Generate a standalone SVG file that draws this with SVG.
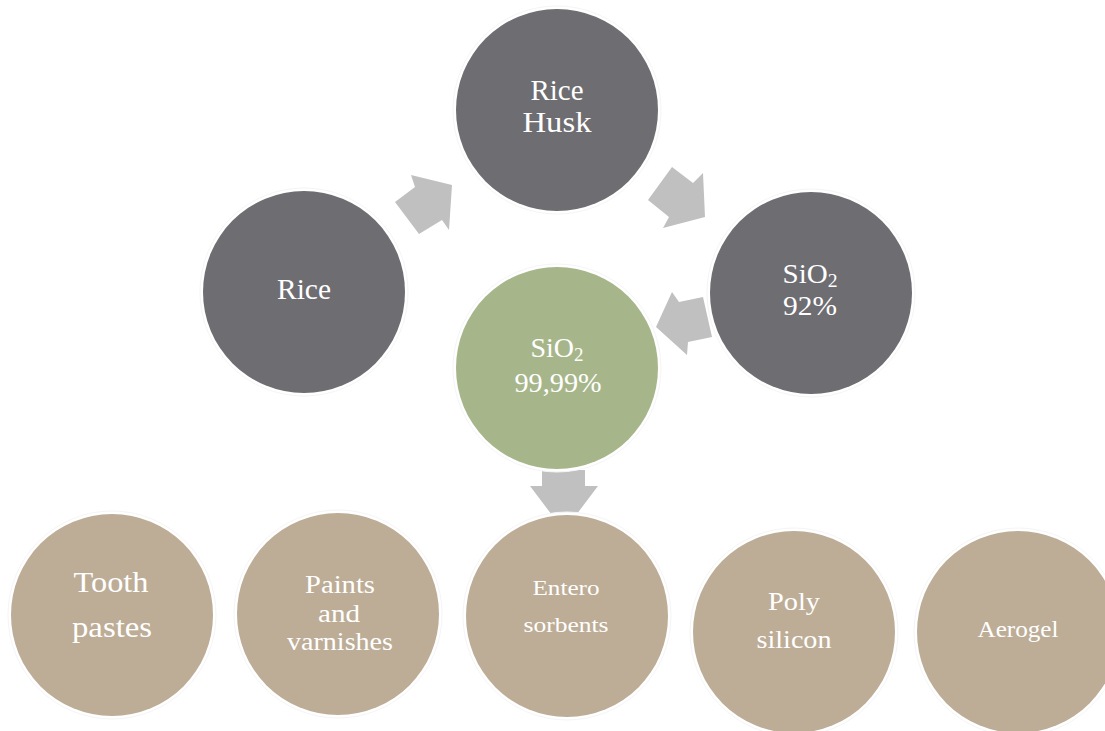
<svg xmlns="http://www.w3.org/2000/svg" width="1105" height="731" viewBox="0 0 1105 731">
  <style>
    .halo { fill: #ffffff; stroke: #f5f5f5; stroke-width: 1; }
    .dark { fill: #6e6d72; }
    .green { fill: #a7b68a; }
    .tan { fill: #bdad96; }
    .arrow { fill: #c0c0c0; }
    text { font-family: "Liberation Serif", "DejaVu Serif", serif; fill: #ffffff; text-anchor: middle; }
  </style>
  <rect width="1105" height="731" fill="#ffffff"/>

  <!-- connectors: block arrows between stages -->
  <g id="connectors">
    <polygon class="arrow" points="395,202 415,187 411,175 452,185 449,230 442,220 419,234"/>
    <polygon class="arrow" points="648,200 672,167 693,183 703,173 705,217 663,228 669,217"/>
    <polygon class="arrow" points="703,297 679,302 672,292 656,327 687,355 688,342 712,337"/>
    <polygon class="arrow" points="542,470 585,470 585,486 598,486 564,531 530,486 542,486"/>
  </g>

  <g id="rice">
    <circle class="halo" cx="304" cy="292" r="104"/>
    <circle class="dark" cx="304" cy="292" r="101"/>
    <text x="304" y="299" font-size="29" textLength="54" lengthAdjust="spacingAndGlyphs">Rice</text>
  </g>

  <g id="rice-husk">
    <circle class="halo" cx="557" cy="110" r="104"/>
    <circle class="dark" cx="557" cy="110" r="101"/>
    <text x="557" y="100" font-size="29" textLength="53" lengthAdjust="spacingAndGlyphs">Rice</text>
    <text x="557" y="132" font-size="29" textLength="69" lengthAdjust="spacingAndGlyphs">Husk</text>
  </g>

  <g id="sio2-92">
    <circle class="halo" cx="811" cy="293" r="104"/>
    <circle class="dark" cx="811" cy="293" r="101"/>
    <text x="810" y="283" font-size="28" textLength="55" lengthAdjust="spacingAndGlyphs">SiO<tspan font-size="19" dy="4">2</tspan></text>
    <text x="810" y="315" font-size="28" textLength="54" lengthAdjust="spacingAndGlyphs">92%</text>
  </g>

  <g id="sio2-9999">
    <circle class="halo" cx="557" cy="368" r="104"/>
    <circle class="green" cx="557" cy="368" r="101"/>
    <text x="557" y="357" font-size="28" textLength="53" lengthAdjust="spacingAndGlyphs">SiO<tspan font-size="19" dy="4">2</tspan></text>
    <text x="558" y="392" font-size="28" textLength="87" lengthAdjust="spacingAndGlyphs">99,99%</text>
  </g>

  <g id="tooth-pastes">
    <circle class="halo" cx="112" cy="615" r="104"/>
    <circle class="tan" cx="112" cy="615" r="101"/>
    <text x="111" y="592" font-size="30" textLength="75" lengthAdjust="spacingAndGlyphs">Tooth</text>
    <text x="112" y="637" font-size="30" textLength="80" lengthAdjust="spacingAndGlyphs">pastes</text>
  </g>

  <g id="paints-varnishes">
    <circle class="halo" cx="338" cy="614" r="104"/>
    <circle class="tan" cx="338" cy="614" r="101"/>
    <text x="340" y="593" font-size="26" textLength="70" lengthAdjust="spacingAndGlyphs">Paints</text>
    <text x="339" y="622" font-size="26" textLength="42" lengthAdjust="spacingAndGlyphs">and</text>
    <text x="340" y="650" font-size="26" textLength="106" lengthAdjust="spacingAndGlyphs">varnishes</text>
  </g>

  <g id="enterosorbents">
    <circle class="halo" cx="567" cy="616" r="104"/>
    <circle class="tan" cx="567" cy="616" r="101"/>
    <text x="566" y="595" font-size="22" textLength="67" lengthAdjust="spacingAndGlyphs">Entero</text>
    <text x="566" y="632" font-size="22" textLength="85" lengthAdjust="spacingAndGlyphs">sorbents</text>
  </g>

  <g id="poly-silicon">
    <circle class="halo" cx="794" cy="632" r="104"/>
    <circle class="tan" cx="794" cy="632" r="101"/>
    <text x="794" y="610" font-size="25" textLength="52" lengthAdjust="spacingAndGlyphs">Poly</text>
    <text x="794" y="648" font-size="25" textLength="75" lengthAdjust="spacingAndGlyphs">silicon</text>
  </g>

  <g id="aerogel">
    <circle class="halo" cx="1018" cy="632" r="104"/>
    <circle class="tan" cx="1018" cy="632" r="101"/>
    <text x="1018" y="637" font-size="23" textLength="81" lengthAdjust="spacingAndGlyphs">Aerogel</text>
  </g>
</svg>
